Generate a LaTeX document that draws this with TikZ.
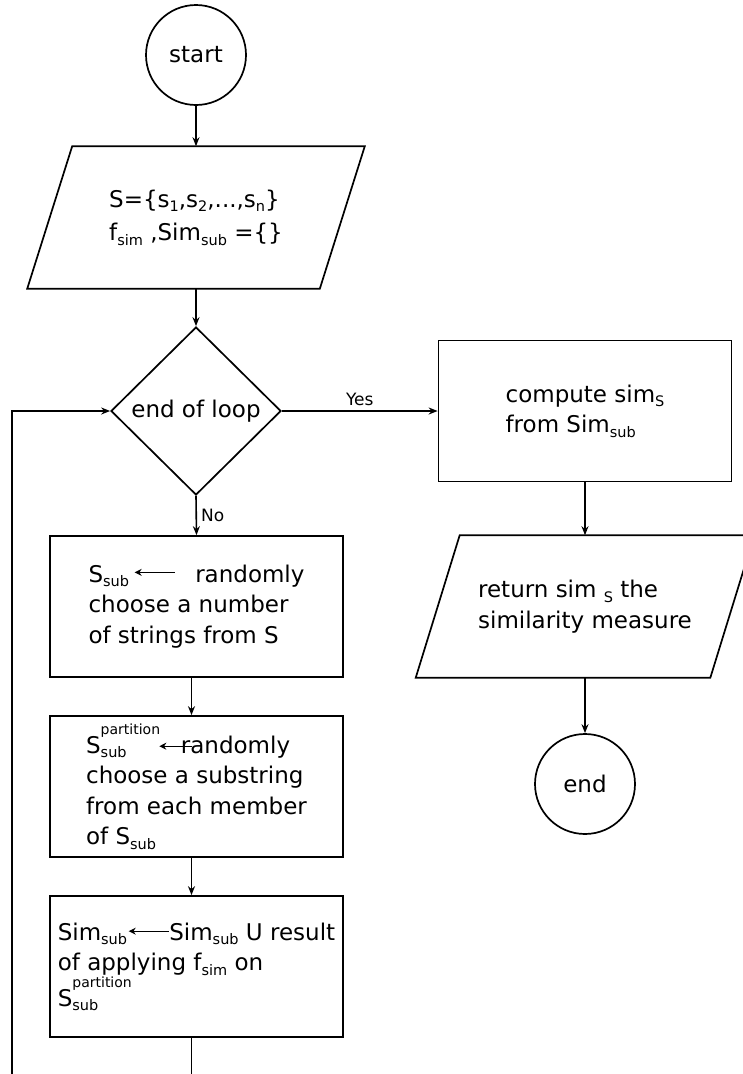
\documentclass[tikz,border=0pt]{standalone}
\usepackage{fontspec}
\setmainfont{DejaVu Sans}
\usetikzlibrary{shapes.geometric,arrows.meta,calc}
\newcommand\sbx[1]{\raisebox{-4.5pt}{\fontsize{14.5}{14.5}\selectfont #1}}
\newcommand\partS{S\makebox[60pt][l]{\rlap{\raisebox{19pt}{\fontsize{14}{14}\selectfont partition}}\raisebox{-4pt}{\fontsize{14.5}{14.5}\selectfont sub}}}
\newcommand\larr[2]{\tikz[baseline=0pt]\draw[line width=1.2pt,{Stealth[length=7pt,width=7pt]}-] (0pt,#2) -- (#1,#2);}
\begin{document}
\begin{tikzpicture}[x=1pt,y=1pt,line width=1.6pt,
  >={Stealth[length=9pt,width=7pt]},
  every node/.style={font=\fontsize{23}{30.5}\selectfont},
  proc/.style={draw,line width=1.7pt,rectangle,minimum width=293pt,minimum height=141pt,align=left,inner sep=0pt},
  iobox/.style={minimum width=291pt,minimum height=141pt,align=left,inner sep=0pt},
  term/.style={draw,line width=1.7pt,circle,minimum size=100pt,inner sep=0pt},
  decis/.style={draw,line width=1.7pt,diamond,minimum width=170pt,minimum height=168pt,inner sep=0pt},
  lbl/.style={font=\fontsize{17}{20}\selectfont,inner sep=0pt}]
\useasboundingbox (0,0) rectangle (743,-1074);
\fill[white] (0,0) rectangle (743,-1074);

\node[term] (start) at (196,-55) {start};
\node[iobox] (in) at (196,-217.5) {S=\{s\sbx{1},s\sbx{2},...,s\sbx{n}\}\\[3pt]f\sbx{sim} ,Sim\sbx{sub} =\{\}};
\draw[line width=1.7pt] ([xshift=22.5pt]in.north west) -- ([xshift=22.5pt]in.north east) -- ([xshift=-22.5pt]in.south east) -- ([xshift=-22.5pt]in.south west) -- cycle;
\node[decis] (dec) at (196,-411) {end of loop};
\node[proc] (comp) at (585,-411) {compute sim\sbx{S}\\from Sim\sbx{sub}};
\node[iobox,minimum width=293pt] (out) at (585,-606.5) {return sim \sbx{S} the\\similarity measure};
\draw[line width=1.7pt] ([xshift=22pt]out.north west) -- ([xshift=22pt]out.north east) -- ([xshift=-22pt]out.south east) -- ([xshift=-22pt]out.south west) -- cycle;
\node[term] (end) at (585,-784) {end};

\node[proc] (r1) at (196.5,-606.5) {S\sbx{sub}\hspace{5pt}\larr{40pt}{10pt}\hspace{20pt}randomly\\choose a number\\of strings from S};
\node[proc] (r2) at (196.5,-786.5) {\partS\hspace{-2pt}\larr{33pt}{7pt}\hspace{-12pt}randomly\\choose a substring\\from each member\\of S\sbx{sub}};
\node[proc] (r3) at (196.5,-966.5) {Sim\sbx{sub}\hspace{1pt}\larr{40pt}{9pt}Sim\sbx{sub} U result\\of applying f\sbx{sim} on\\\partS};

\coordinate (bot3) at ([xshift=-5pt]r3.south |- 0,-1074);
\coordinate (botL) at (12,-1074);

\draw[->] (start) -- (in.north);
\draw[->] (in.south) -- (dec.north);
\draw[->] (dec.east) -- node[lbl,above,yshift=4pt] (yes) {Yes} (comp.west);
\draw[->] (comp.south) -- (out.north);
\draw[->] (out.south) -- (end.north);
\draw[->] (dec.south) -- node[lbl,right,xshift=4pt] (no) {No} (r1.north);
\draw[->] ([xshift=-5pt]r1.south) -- ([xshift=-5pt]r2.north);
\draw[->] ([xshift=-5pt]r2.south) -- ([xshift=-5pt]r3.north);
\draw ([xshift=-5pt]r3.south) -- (bot3);
\draw[->] (botL) |- (dec.west);
\end{tikzpicture}
\end{document}
